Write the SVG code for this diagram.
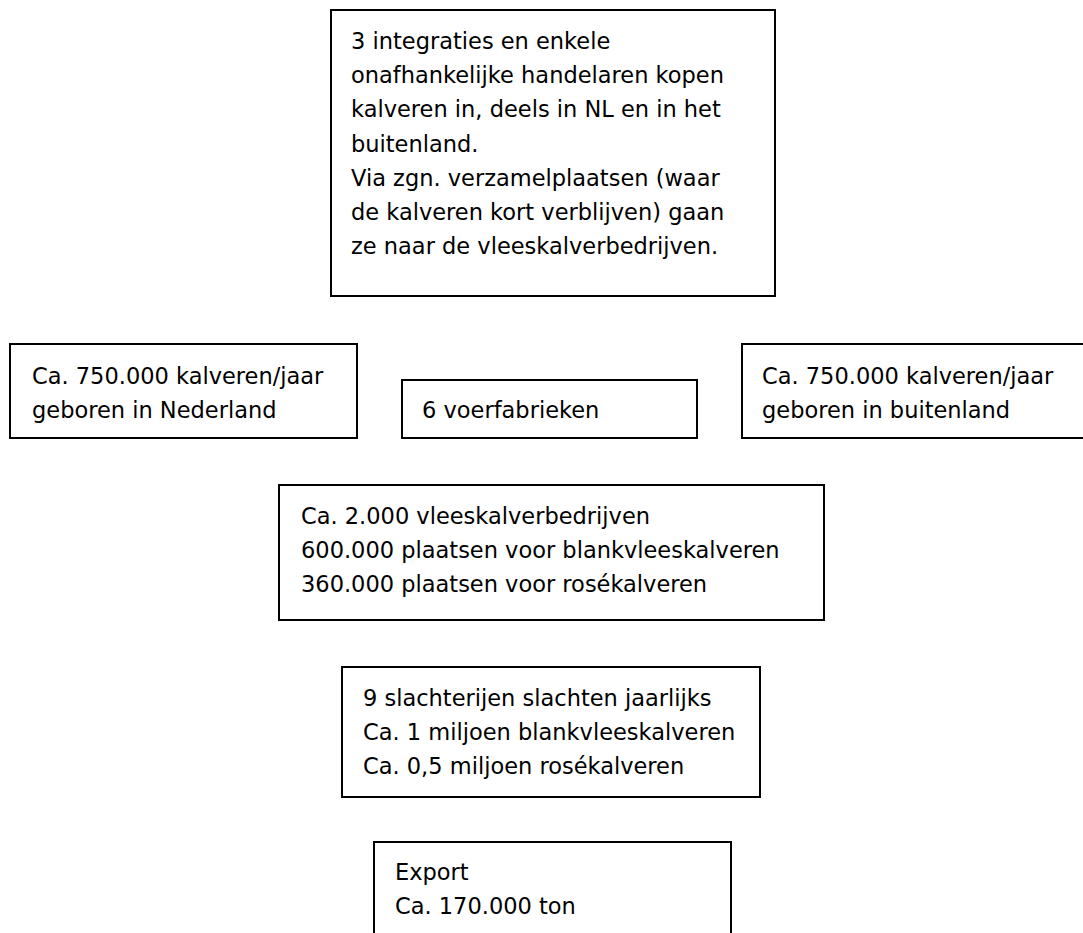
<svg xmlns="http://www.w3.org/2000/svg" width="1083" height="933" viewBox="0 0 1083 933">
<style>
.box{fill:#fff;stroke:#000;stroke-width:2}
.t{font-family:"DejaVu Sans","Verdana",sans-serif;font-size:22.5px;fill:#000}
</style>
<rect width="1083" height="933" fill="#fff"/>
<g id="connectors"></g>
<g id="n1">
<rect class="box" x="331" y="10" width="444" height="286"/>
<text class="t" x="351" y="49">3 integraties en enkele</text>
<text class="t" x="351" y="83">onafhankelijke handelaren kopen</text>
<text class="t" x="351" y="117">kalveren in, deels in NL en in het</text>
<text class="t" x="351" y="152">buitenland.</text>
<text class="t" x="351" y="186">Via zgn. verzamelplaatsen (waar</text>
<text class="t" x="351" y="220">de kalveren kort verblijven) gaan</text>
<text class="t" x="351" y="254">ze naar de vleeskalverbedrijven.</text>
</g>
<g id="n2">
<rect class="box" x="10" y="344" width="347" height="94"/>
<text class="t" x="32" y="384">Ca. 750.000 kalveren/jaar</text>
<text class="t" x="32" y="418">geboren in Nederland</text>
</g>
<g id="n3">
<rect class="box" x="402" y="380" width="295" height="58"/>
<text class="t" x="422" y="418">6 voerfabrieken</text>
</g>
<g id="n4">
<rect class="box" x="742" y="344" width="360" height="94"/>
<text class="t" x="762" y="384">Ca. 750.000 kalveren/jaar</text>
<text class="t" x="762" y="418">geboren in buitenland</text>
</g>
<g id="n5">
<rect class="box" x="279" y="485" width="545" height="135"/>
<text class="t" x="301" y="524">Ca. 2.000 vleeskalverbedrijven</text>
<text class="t" x="301" y="558">600.000 plaatsen voor blankvleeskalveren</text>
<text class="t" x="301" y="592">360.000 plaatsen voor rosékalveren</text>
</g>
<g id="n6">
<rect class="box" x="342" y="667" width="418" height="130"/>
<text class="t" x="363" y="706">9 slachterijen slachten jaarlijks</text>
<text class="t" x="363" y="740">Ca. 1 miljoen blankvleeskalveren</text>
<text class="t" x="363" y="774">Ca. 0,5 miljoen rosékalveren</text>
</g>
<g id="n7">
<rect class="box" x="374" y="842" width="357" height="120"/>
<text class="t" x="395" y="880">Export</text>
<text class="t" x="395" y="914">Ca. 170.000 ton</text>
</g>
</svg>
